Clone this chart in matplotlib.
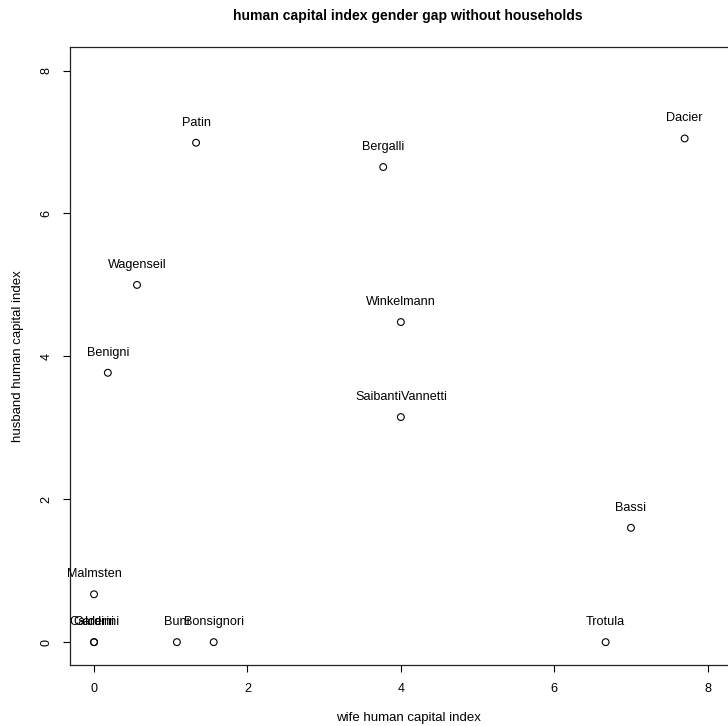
import matplotlib.pyplot as plt

plt.rcParams['font.family'] = ['Liberation Sans', 'DejaVu Sans']

# data
names = ["Patin", "Bergalli", "Dacier", "Wagenseil", "Winkelmann", "Benigni",
         "SaibantiVannetti", "Bassi", "Malmsten", "Trotula", "Buni",
         "Bonsignori", "Gardini", "Calderini"]
wife = [1.33, 3.77, 7.70, 0.56, 4.00, 0.18, 4.00, 7.00, 0.00, 6.67, 1.08,
        1.56, 0.00, 0.00]
husband = [6.99, 6.65, 7.05, 5.00, 4.48, 3.77, 3.15, 1.60, 0.67, 0.00, 0.00,
           0.00, 0.00, 0.00]

W, H = 728, 726
fig = plt.figure(figsize=(W / 100, H / 100), dpi=100)
# plot region runs past the right edge of the picture, as in the original
ax = fig.add_axes([69.5 / W, (H - 665) / H, 676.5 / W, 618 / H])

ax.scatter(wife, husband, s=24, facecolors='none', edgecolors='black',
           linewidths=0.8, zorder=3)
for n, x, y in zip(names, wife, husband):
    t = ax.annotate(n, (x, y), xytext=(0, 14.5), textcoords='offset points',
                    ha='center', va='center', fontsize=9.1)
    t.set_clip_on(True)  # R clips text to the plot region

ax.set_xlim(-0.32, 8.5)
ax.set_ylim(-0.32, 8.33)
ax.set_xticks([0, 2, 4, 6, 8])
ax.set_yticks([0, 2, 4, 6, 8])
ax.tick_params(axis='both', length=5, width=0.8, labelsize=9.1)
ax.tick_params(axis='x', pad=8)
ax.tick_params(axis='y', pad=7)
for lab in ax.get_yticklabels():
    lab.set_rotation(90)
    lab.set_va('center')
for sp in ax.spines.values():
    sp.set_linewidth(0.9)
    sp.set_color('#222222')

fig.text(408 / W, 1 - 16 / H, "human capital index gender gap without households",
         ha='center', va='center', fontsize=10.1, fontweight='bold')
fig.text(408 / W, 1 - 718 / H, "wife human capital index",
         ha='center', va='center', fontsize=9.5)
fig.text(18 / W, 1 - 356 / H, "husband human capital index",
         ha='center', va='center', fontsize=9.5, rotation=90)

fig.savefig("out.png", dpi=100)
